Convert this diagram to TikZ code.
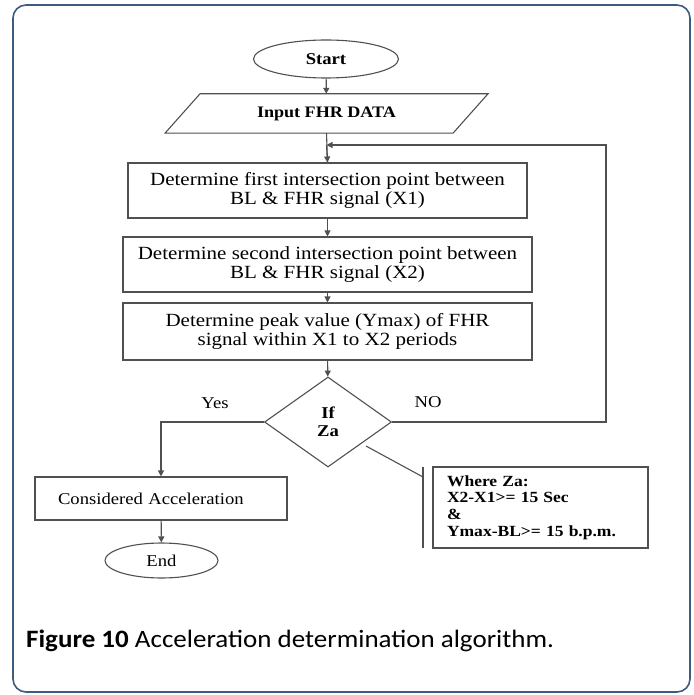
\documentclass[tikz,border=0pt]{standalone}
\usepackage{fontspec}
\setmainfont{Liberation Serif}[FakeStretch=1.13]
\newfontfamily\capfont{Carlito}[FakeStretch=1.08]
\usetikzlibrary{shapes.geometric,arrows.meta}

\definecolor{framecol}{HTML}{3E5B80}
\definecolor{linecol}{HTML}{505050}

\tikzset{
  flow/.style={draw=linecol, line width=1.1pt},
  arr/.style={flow, -{Triangle[length=6pt,width=6pt]}},
  term/.style={ellipse, draw=linecol, line width=1.1pt, inner sep=0pt},
  stepbox/.style={rectangle, draw=linecol, line width=1.1pt, inner sep=0pt, align=center,
                  font=\fontsize{18.6}{18.8}\selectfont},
  lbl/.style={inner sep=0pt, font=\fontsize{16.5}{18}\selectfont},
}

\begin{document}
\begin{tikzpicture}[x=1pt,y=-1pt]
\useasboundingbox (0,0) rectangle (693,695);

% outer frame
\draw[framecol, line width=1.6pt, rounded corners=13pt] (13,5) rectangle (690,692);

% terminals and process steps
\node[term, minimum width=145pt, minimum height=38pt, font=\bfseries\fontsize{16.5}{18}\selectfont]
  (start) at (326,59) {Start};

\node[inner sep=0pt, minimum width=288pt, minimum height=39pt, font=\bfseries\fontsize{16}{18}\selectfont]
  (input) at (326.5,113.5) {Input FHR DATA};
\draw[flow] ([xshift=-126.5pt]input.north) -- ([xshift=161.5pt]input.north)
  -- ([xshift=126.5pt]input.south) -- ([xshift=-161.5pt]input.south) -- cycle;

\node[stepbox, minimum width=399pt, minimum height=55pt] (s1) at (327.5,190.5)
  {Determine first intersection point between\\BL \& FHR signal (X1)};
\node[stepbox, minimum width=409pt, minimum height=55pt] (s2) at (327.5,264.5)
  {Determine second intersection point between\\BL \& FHR signal (X2)};
\node[stepbox, minimum width=409pt, minimum height=57pt] (s3) at (327.5,331.5)
  {Determine peak value (Ymax) of FHR\\signal within X1 to X2 periods};

\node[diamond, draw=linecol, line width=1.1pt, inner sep=0pt, minimum width=127pt, minimum height=90pt,
      align=center, font=\bfseries\fontsize{16.5}{18}\selectfont] (dia) at (328,422) {If\\Za};

\node[stepbox, minimum width=252pt, minimum height=43pt, inner xsep=23pt, text width=206pt, align=left,
      font=\fontsize{16.5}{18}\selectfont] (acc) at (161,498.5) {Considered Acceleration};

\node[term, minimum width=113pt, minimum height=35pt, font=\fontsize{16.5}{18}\selectfont]
  (end) at (161.5,560.5) {End};

% condition note
\node[stepbox, minimum width=215pt, minimum height=81pt, inner xsep=14pt, text width=187pt, align=left,
      font=\bfseries\fontsize{15.5}{16.7}\selectfont] (za) at (540.5,507.5)
  {Where Za:\\X2-X1>= 15 Sec\\\&\\Ymax-BL>= 15 b.p.m.};
\coordinate (barTop) at (423,467);
\coordinate (barBot) at (423,548);
\coordinate (noteTail) at (366,446);
\draw[flow] (barTop) -- (barBot);
\draw[flow] (noteTail) -- (barTop |- 0,477);

% branch labels
\node[lbl] (yes) at (215,403) {Yes};
\node[lbl] (no) at (428,402) {NO};

% connectors
\coordinate (loopR) at (606,145);
\draw[arr] (start) -- (input);
\draw[flow] (input.south) -- (s1.north);
\draw[arr] (input.south |- loopR) -- (s1.north);
\draw[arr] (s1) -- (s2);
\draw[arr] (s2) -- (s3);
\draw[arr] (s3) -- (dia);
\draw[arr] (dia.east) -| (loopR) -- (input.south |- loopR);
\draw[arr] (dia.west) -| (acc.north);
\draw[arr] (acc) -- (end);

% caption
\node[anchor=west, inner sep=0pt, font=\capfont\fontsize{25}{29}\selectfont] (caption) at (26,641)
  {\textbf{Figure 10} Acceleration determination algorithm.};
\end{tikzpicture}
\end{document}
